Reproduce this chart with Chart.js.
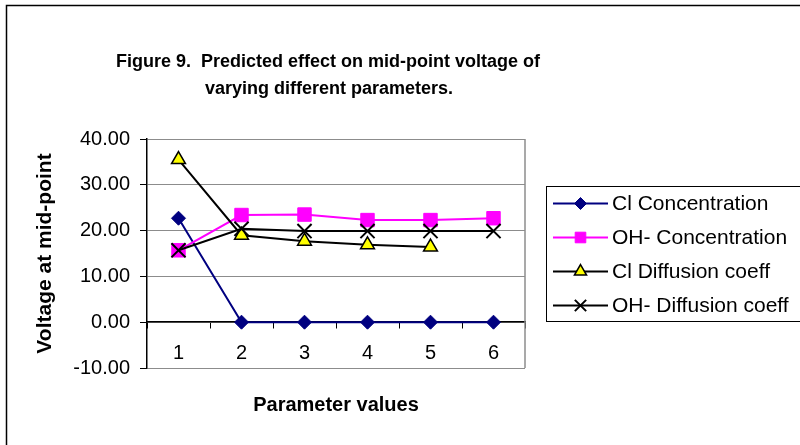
<!DOCTYPE html>
<html><head><meta charset="utf-8">
<script src="https://cdn.jsdelivr.net/npm/chart.js@4.4.0/dist/chart.umd.min.js"></script>
<style>html,body{margin:0;padding:0;background:#fff}#wrap{width:800px;height:445px;position:relative}</style>
</head><body><div id="wrap"><canvas id="c" width="800" height="445"></canvas></div>
<script>
const categories = ['1', '2', '3', '4', '5', '6'];
const clConcentration = [22.7, 0, 0, 0, 0, 0];
const ohConcentration = [15.7, 23.4, 23.5, 22.3, 22.3, 22.7];
const clDiffusion = [35.5, 19.0, 17.7, 16.9, 16.4, null];
const ohDiffusion = [15.7, 20.4, 19.9, 19.9, 19.9, 19.9];
const seriesNames = ['Cl Concentration', 'OH- Concentration', 'Cl Diffusion coeff', 'OH- Diffusion coeff'];
const yTickValues = [-10, 0, 10, 20, 30, 40];
const titleLines = ['Figure 9.  Predicted effect on mid-point voltage of', 'varying different parameters.'];
const xTitle = 'Parameter values';
const yTitle = 'Voltage at mid-point';

const FONT = "'Liberation Sans', Arial, sans-serif";

const framePlugin = {
  id: 'frame',
  beforeDraw(chart) {
    const ctx = chart.ctx;
    ctx.save();
    ctx.fillStyle = '#fff';
    ctx.fillRect(0, 0, chart.width, chart.height);
    ctx.strokeStyle = '#000';
    ctx.lineWidth = 1.5;
    ctx.strokeRect(6.5, 5.5, 820, 460);
    ctx.restore();
  },
  beforeDatasetsDraw(chart) {
    const ctx = chart.ctx, a = chart.chartArea;
    ctx.save();
    ctx.strokeStyle = '#8c8c8c';
    ctx.lineWidth = 1.5;
    ctx.beginPath();
    ctx.moveTo(a.right, a.top);
    ctx.lineTo(a.right, a.bottom);
    ctx.stroke();
    ctx.restore();
  },
  afterDraw(chart) {
    const ctx = chart.ctx;
    ctx.save();
    // title
    ctx.fillStyle = '#000';
    ctx.font = 'bold 18px ' + FONT;
    ctx.textAlign = 'center';
    ctx.textBaseline = 'middle';
    ctx.fillText(titleLines[0], 328, 62);
    ctx.fillText(titleLines[1], 329, 89);
    // legend
    const lx = 546, ly = 186, lh = 135;
    ctx.strokeStyle = '#000';
    ctx.lineWidth = 1;
    ctx.strokeRect(lx + 0.5, ly + 0.5, 300, lh);
    const rowY = [203.5, 237.5, 271.5, 305.5];
    const legendRadius = [6, 7.5, 7, 8];
    chart.data.datasets.forEach((ds, i) => {
      const y = rowY[i];
      ctx.strokeStyle = ds.borderColor;
      ctx.lineWidth = 2;
      ctx.beginPath();
      ctx.moveTo(553, y);
      ctx.lineTo(608, y);
      ctx.stroke();
      ctx.fillStyle = ds.pointBackgroundColor;
      ctx.strokeStyle = ds.pointBorderColor;
      ctx.lineWidth = ds.pointBorderWidth;
      Chart.helpers.drawPoint(ctx, {pointStyle: ds.pointStyle, radius: legendRadius[i], rotation: 0, borderWidth: ds.pointBorderWidth}, 580.5, y);
      ctx.fillStyle = '#000';
      ctx.font = '21px ' + FONT;
      ctx.textAlign = 'left';
      ctx.textBaseline = 'middle';
      ctx.fillText(ds.label, 612, y + 1);
    });
    ctx.restore();
  }
};

new Chart(document.getElementById('c'), {
  type: 'line',
  data: {
    labels: categories,
    datasets: [
      {label: seriesNames[0], data: clConcentration, borderColor: '#000080', backgroundColor: '#000080',
       pointBackgroundColor: '#000080', pointBorderColor: '#000080', pointBorderWidth: 1,
       pointStyle: 'rectRot', pointRadius: 7, borderWidth: 2, order: 4},
      {label: seriesNames[1], data: ohConcentration, borderColor: '#FF00FF', backgroundColor: '#FF00FF',
       pointBackgroundColor: '#FF00FF', pointBorderColor: '#FF00FF', pointBorderWidth: 1,
       pointStyle: 'rect', pointRadius: 9.5, borderWidth: 2, order: 3},
      {label: seriesNames[2], data: clDiffusion, borderColor: '#000000', backgroundColor: '#FFFF00',
       pointBackgroundColor: '#FFFF00', pointBorderColor: '#000000', pointBorderWidth: 1.5,
       pointStyle: 'triangle', pointRadius: 8, borderWidth: 2, order: 2},
      {label: seriesNames[3], data: ohDiffusion, borderColor: '#000000', backgroundColor: '#000000',
       pointBackgroundColor: '#000000', pointBorderColor: '#000000', pointBorderWidth: 2,
       pointStyle: 'crossRot', pointRadius: 10, borderWidth: 2, order: 1}
    ]
  },
  options: {
    responsive: false,
    animation: false,
    devicePixelRatio: 1,
    layout: {padding: {left: 0, top: 139, right: 275, bottom: 77}},
    plugins: {legend: {display: false}, title: {display: false}, tooltip: {enabled: false}},
    elements: {line: {tension: 0}},
    scales: {
      x: {
        type: 'category',
        position: {y: 0},
        offset: true,
        grid: {display: true, drawOnChartArea: false, drawTicks: true, offset: true, tickLength: 6, tickColor: '#000', tickWidth: 1},
        border: {display: true, color: '#000', width: 1.5},
        ticks: {color: '#000', font: {family: FONT, size: 20}, padding: 13, maxRotation: 0},
        title: {display: true, text: xTitle, color: '#000', font: {family: FONT, size: 20, weight: 'bold'}, padding: {top: 0, bottom: -18}},
        afterFit(s) { s.height = 77; }
      },
      y: {
        type: 'linear',
        min: -10, max: 40,
        afterBuildTicks(s) { s.ticks = yTickValues.map(v => ({value: v})); },
        grid: {color: '#8c8c8c', lineWidth: 1, tickColor: '#000', tickLength: 7, drawTicks: true},
        border: {display: true, color: '#000', width: 1.5},
        ticks: {color: '#000', font: {family: FONT, size: 20}, padding: 10, callback: v => Number(v).toFixed(2)},
        title: {display: true, text: yTitle, color: '#000', font: {family: FONT, size: 21, weight: 'bold'}, padding: {top: 32.4, bottom: 0}},
        afterFit(s) { s.width = 147; }
      }
    }
  },
  plugins: [framePlugin]
});
</script>
</body></html>
